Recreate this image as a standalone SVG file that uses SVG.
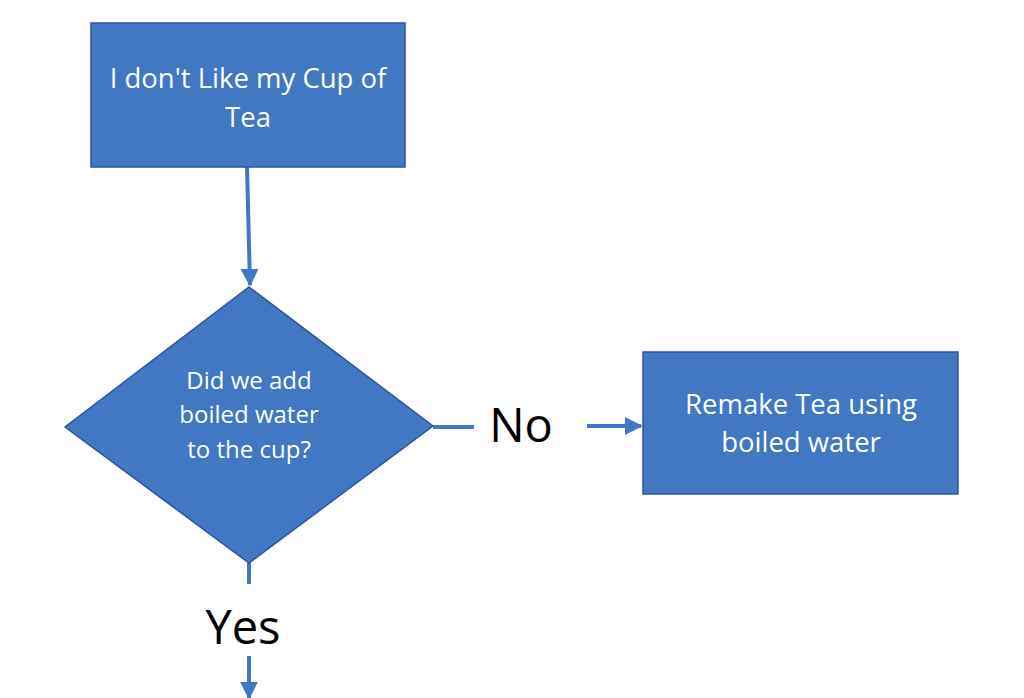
<svg xmlns="http://www.w3.org/2000/svg" width="1024" height="698" viewBox="0 0 1024 698">
<defs>
<style>
.node{fill:#4177C3;stroke:#2F5597;stroke-width:1.5}
.nt{fill:#fff;font-family:"Open Sans","Liberation Sans",sans-serif;text-anchor:middle}
.lbl{fill:#000;font-family:"Open Sans","Liberation Sans",sans-serif;text-anchor:middle;font-size:47px}
.edge{stroke:#4177C3;stroke-width:4;fill:none}
</style>
<marker id="ah" viewBox="0 0 10 10" refX="9" refY="5" markerWidth="4.5" markerHeight="4.5" orient="auto" markerUnits="strokeWidth">
<path d="M0,0 L10,5 L0,10 z" fill="#4177C3"/>
</marker>
</defs>
<rect width="1024" height="698" fill="#fff"/>
<g id="edges">
<line class="edge" x1="247" y1="167" x2="250" y2="285" marker-end="url(#ah)"/>
<line class="edge" x1="433" y1="427" x2="474" y2="427"/>
<line class="edge" x1="587" y1="426" x2="641" y2="426" marker-end="url(#ah)"/>
<line class="edge" x1="249" y1="563" x2="249" y2="584"/>
<line class="edge" x1="249" y1="656" x2="249" y2="698" marker-end="url(#ah)"/>
</g>
<g id="labels">
<text class="lbl" x="521" y="442">No</text>
<text class="lbl" x="243" y="644">Yes</text>
</g>
<g id="start">
<rect class="node" x="91" y="23" width="314" height="144"/>
<text class="nt" font-size="27.5" x="248" y="88">I don't Like my Cup of</text>
<text class="nt" font-size="27.5" x="248" y="127">Tea</text>
</g>
<g id="decision">
<polygon class="node" points="249,287 433,426 249,563 65,427"/>
<text class="nt" font-size="24" x="249" y="389">Did we add</text>
<text class="nt" font-size="24" x="249" y="423">boiled water</text>
<text class="nt" font-size="24" x="249" y="458">to the cup?</text>
</g>
<g id="remake">
<rect class="node" x="643" y="352" width="315" height="142"/>
<text class="nt" font-size="27.5" x="801" y="414">Remake Tea using</text>
<text class="nt" font-size="27.5" x="801" y="452">boiled water</text>
</g>
</svg>
